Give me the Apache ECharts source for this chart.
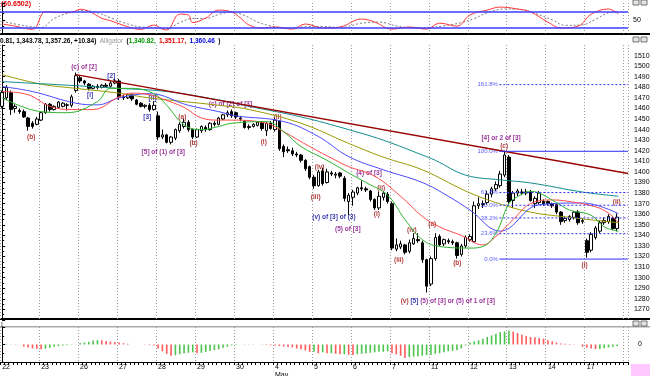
<!DOCTYPE html>
<html>
<head>
<meta charset="utf-8">
<script src="https://cdn.jsdelivr.net/npm/echarts@6/dist/echarts.min.js"></script>
<style>
html, body { margin: 0; padding: 0; background: #fff; }
#chart { width: 650px; height: 376px; }
</style>
</head>
<body>
<div id="chart"></div>
<script>
// trading days on the axis, 9 bars each (last one incomplete)
var days = ['22', '23', '26', '27', '28', '29', '30', '4', '5', '6', '7', '11', '12', '13', '14', '17'];
var slots = 145; // bar slots on the time axis, the last two are empty

// [open, close, low, high]
var candles = [
  [1462,1475,1460,1477],[1470,1480,1468,1482],[1475,1459,1454,1477],[1460,1462,1456,1464],[1458,1457,1455,1460],
  [1457,1452,1451,1459],[1451,1443,1439,1452],[1446,1443,1441,1448],[1445,1450,1444,1452],
  [1449,1456,1448,1457],[1456,1464,1455,1465],[1464,1459,1457,1465],[1459,1462,1458,1463],[1461,1466,1460,1467],
  [1462,1465,1461,1466],[1463,1463.5,1458,1465],[1463,1471,1461,1473],[1477,1491,1475,1494],
  [1489,1486,1484,1491],[1486,1484,1482,1487],[1483,1479,1477,1484],[1479,1481,1478,1482],[1481,1480,1478,1483],
  [1480,1482,1479,1483],[1482,1481,1480,1484],[1481,1484,1480,1486],[1484,1486,1483,1488],
  [1486,1471,1468,1488],[1471,1470,1468,1473],[1470,1473,1469,1474],[1473,1469,1467,1474],[1468,1464,1463,1469],
  [1465,1462,1461,1466],[1462,1463,1460,1464],[1463,1459,1457,1465],[1459,1463,1458,1467],
  [1453,1433,1430,1457],[1433,1435,1431,1440],[1435,1428,1427,1436],[1428,1433,1426,1434],[1432,1440,1430,1441],
  [1439,1445,1437,1447],[1443,1447,1441,1450],[1447,1440,1438,1449],[1440,1433,1431,1441],
  [1433,1440,1432,1441],[1439,1443,1437,1444],[1442,1440,1438,1444],[1440,1446,1439,1447],[1446,1445,1443,1448],
  [1445,1451,1444,1452],[1450,1454,1449,1455],[1454,1456,1452,1458],[1457,1453,1451,1459],
  [1456,1452,1450,1457],[1451,1450,1448,1453],[1448,1442,1441,1449],[1442,1443,1440,1445],[1443,1445,1442,1446],
  [1444,1447,1443,1448],[1447,1441,1439,1448],[1439,1446,1434,1447],[1446,1441,1440,1448],
  [1440,1449,1438,1451],[1448,1422,1420,1449],[1424,1419,1414,1426],[1421,1420,1418,1424],[1420,1417,1415,1423],
  [1417,1416,1414,1419],[1416,1411,1409,1417],[1411,1403,1401,1412],[1405,1395,1393,1406],
  [1395,1387,1384,1397],[1387,1400,1386,1402],[1401,1389,1387,1404],[1390,1400,1389,1403],[1399,1398,1396,1401],
  [1397,1398,1394,1400],[1399,1396,1394,1400],[1394,1375,1372,1396],[1372,1378,1359,1380],
  [1376,1381,1368,1383],[1380,1385,1378,1386],[1385,1384,1382,1392],[1384,1383,1381,1386],[1382,1374,1372,1383],
  [1374,1366,1364,1375],[1366,1377,1364,1381],[1376,1380,1373,1382],[1379,1372,1370,1381],
  [1370,1328,1326,1372],[1327,1331,1325,1337],[1329,1332,1327,1335],[1331,1324,1322,1332],[1325,1333,1323,1336],
  [1332,1337,1331,1342],[1336,1335,1333,1342],[1333,1317,1314,1335],[1317,1292,1286,1318],
  [1294,1318,1292,1320],[1318,1338,1316,1342],[1339,1331,1330,1341],[1332,1336,1330,1337],[1335,1334,1332,1337],
  [1334,1333,1331,1336],[1333,1321,1318,1334],[1322,1330,1320,1332],[1330,1338,1328,1340],
  [1336,1339,1334,1341],[1334,1368,1333,1372],[1368,1370,1365,1376],[1370,1369,1366,1373],[1371,1379,1369,1382],
  [1379,1384,1376,1386],[1384,1388,1382,1391],[1387,1398,1385,1401],[1397,1416,1395,1420],
  [1414,1372,1370,1416],[1373,1380,1366,1382],[1380,1382,1377,1384],[1381,1380,1378,1384],[1380,1381,1378,1384],
  [1381,1373,1372,1383],[1370,1375,1366,1377],[1371,1380,1369,1382],[1372,1370,1368,1374],
  [1372,1370,1368,1373],[1370,1368,1366,1371],[1369,1362,1360,1370],[1362,1353,1350,1363],[1354,1356,1352,1358],
  [1355,1358,1353,1359],[1357,1362,1355,1363],[1362,1352,1350,1364],[1353,1354,1351,1356],
  [1335,1324,1319,1337],[1326,1341,1324,1343],[1338,1347,1336,1349],[1344,1352,1342,1354],[1352,1354,1350,1357],
  [1353,1358,1351,1360],[1356,1346.4,1345,1358],[1346.4,1357.26,1343.78,1360.81]
];

// moving averages as [bar, price]
var maOlive = [[0,1492],[9,1483],[17,1479],[27,1474.5],[34,1470],[50,1463],[57,1459],[69,1446],[80,1427],
  [88,1414],[97,1402],[107,1382],[114,1371],[122,1362],[130,1357.5],[142.3,1352]];
var maTeal = [[0,1485.4],[15,1482],[27,1479],[38,1476],[50,1468],[57,1462],[69,1452],[80,1440],[88,1430],
  [97,1416],[100,1411],[107,1397],[115,1392.5],[122,1389.6],[134,1381],[142.3,1377]];
var jaw = [[0,1480.7],[7,1476],[17,1465],[22,1463.4],[27,1470],[34,1474],[43,1463],[50,1457],[54,1453],
  [65,1447.6],[73,1433.5],[80,1414.5],[88,1402],[97,1390],[103,1377],[108,1364],[115,1344],[124,1369],
  [134,1370.6],[142.3,1360.5]];
var teeth = [[0,1476],[6,1473],[11,1462],[16,1459],[21,1459],[27,1471],[30,1474.5],[34,1473],[37,1469],
  [42,1461],[46,1451],[50,1449],[53,1449],[61,1446],[65,1438],[71,1424],[77,1411],[80,1405],[86,1396],
  [92,1377],[97,1358],[101,1348],[106,1340],[111,1331],[114,1339],[118,1355],[122,1370],[127,1373.5],
  [131,1372],[137,1367],[140,1361],[142.3,1352]];
var lips = [[0,1470],[9,1457],[15,1456],[22,1466.5],[25,1479],[30,1479],[35,1474],[38,1463],[42,1444.5],
  [46,1440],[50,1443],[53,1446],[61,1447.6],[65,1438],[69,1424],[75,1411],[80,1399],[84,1390],[89,1378],
  [93,1355],[97,1336],[101,1329.5],[108,1328],[111,1329.5],[114,1342],[117,1370],[119,1376.6],[122,1381.5],
  [124,1380],[128,1371],[131,1364],[136,1359],[139,1348],[142.3,1344]];
var trendLine = [[17,1492],[144.5,1398.5]];

// Fibonacci retracement
var fibNames = ['161.8%', '100.0%', '61.8%', '50.0%', '38.2%', '23.6%', '0.0%'];
var fibValues = [1482.5, 1419.5, 1380.5, 1368.5, 1356.5, 1341.6, 1317.6];
var fibStart = 114.8;

// top oscillator
var oscK = [[0,35],[3,27],[7,15],[10,80],[13,77],[16,77],[18,89],[20,82],[23,56],[25,47],[29,25],[32,15],
  [35,31],[37,16],[38,13],[41,71],[43,68],[44,40],[47,57],[50,86],[53,79],[55,57],[57,31],[60,20],[63,24],
  [67,16],[70,35],[74,20],[78,24],[83,53],[86,42],[90,16],[94,24],[98,16],[101,38],[105,27],[108,68],
  [112,86],[115,97],[119,90],[122,79],[126,42],[129,20],[133,27],[136,71],[140,90],[142.3,71]];
var oscD = [[0,45],[4,32],[9,22],[12,55],[16,78],[19,84],[22,76],[25,58],[28,40],[32,24],[35,22],[38,18],
  [41,40],[44,55],[47,55],[50,70],[53,78],[56,66],[59,42],[62,28],[66,20],[70,25],[74,26],[78,22],[83,38],
  [87,42],[91,28],[95,20],[99,22],[102,28],[106,40],[109,55],[112,76],[116,90],[120,88],[123,74],[127,50],
  [130,30],[134,32],[137,52],[140,76],[142.3,80]];

// bottom histogram
var hist = [
  0.3,0.3,0.3,0.2,0,-2,-3,-4,-4.3,
  -5,-4.3,-3.3,-2.3,-1.7,-1,-0.7,-0.4,-0.2,
  1.5,2,2.7,4,4.5,4.3,3.5,3,2.5,
  2,1.3,0.8,0,0,0,-0.3,-0.7,-1,
  -4,-7,-9.5,-11.5,-11,-10,-9,-8.5,-8,
  -9,-8.5,-7.7,-6.7,-5.7,-5,-3.3,-2.3,-1,
  -0.5,0,0.3,0.3,0.2,0,-0.3,-0.5,-0.8,
  -1,-1.5,-2,-2.5,-3,-4,-5,-6,-7.5,
  -7.5,-9,-8,-9,-9,-9.5,-10,-10,-10.5,
  -10.7,-10,-9.5,-9,-8.5,-8,-7.5,-7.5,-7,
  -9,-10,-11.5,-14,-13,-12.5,-12,-11.5,-11,
  -10.5,-9.5,-9,-8,-7,-6.5,-6,-4,-1,
  2,3.3,4.3,6,7.7,9.3,11,12.7,13.3,
  14.3,13.3,11.7,10,8.7,7.7,7.5,6.7,6,
  4.3,3.3,2,1,0.7,0.5,0.3,0,-2.3,
  -3.3,-4,-4.7,-4.5,-3.8,-3,-2.3,-1.7
];

// wave labels: text, bar, price, colour key
var notes = [
  ['(c) of [2]', 18.9, 1499.3, 'p'], ['[2]', 25.2, 1490.8, 'b'], ['(b)', 6.7, 1433.2, 'r'],
  ['[i]', 20.3, 1472.9, 'b'], ['[ii]', 34.7, 1470, 'b'], ['[3]', 33.5, 1452, 'b'],
  ['[5] of (1) of [3]', 37.2, 1419, 'p'], ['(a)', 41.6, 1452, 'r'], ['(b)', 44.2, 1427.5, 'r'],
  ['(c) of [2] of [3]', 52.7, 1464.3, 'p'], ['(ii)', 63.6, 1452, 'r'], ['(i)', 60.4, 1428.4, 'r'],
  ['(iii)', 72.4, 1376.4, 'r'], ['(iv)', 73.3, 1404.8, 'r'], ['(4) of [3]', 84.7, 1399.1, 'p'],
  ['(ii)', 87.5, 1385, 'r'], ['(i)', 86.5, 1360.4, 'r'], ['(v) of [3] of (3)', 76.6, 1357.6, 'b'],
  ['(5) of [3]', 79.8, 1346.2, 'p'], ['(iv)', 94.6, 1345.3, 'r'], ['(iii)', 91.6, 1316.9, 'r'],
  ['(a)', 99.3, 1351, 'r'], ['(b)', 105.1, 1314, 'r'], ['[4] or 2 of [3]', 115.2, 1432.2, 'p'],
  ['(c)', 115.9, 1424.7, 'r'], ['(ii)', 141.9, 1371.6, 'r'], ['(i)', 134.5, 1312, 'r'],
  ['{r|(v)} {b|[5]} {p|(5) of [3] or (5) of 1 of [3]}', 102.9, 1277.3, 'p']
];

var noteColors = { p: '#800080', b: '#000099', r: '#990000' };
var fibColor = '#2f2fff';
var font = 'Liberation Sans';

var cats = [];
for (var i = 0; i < slots; i++) {
  cats.push(i < candles.length ? days[Math.floor(i / 9)] + '-' + (i % 9) : '');
}

var myChart = echarts.init(document.getElementById('chart'));

var dayAxis = function (grid) {
  return {
    type: 'value', gridIndex: grid, position: 'top', min: -0.5, max: slots - 0.5, interval: 9,
    axisLine: { show: false }, axisTick: { show: false }, axisLabel: { show: false },
    splitLine: { show: true, lineStyle: { color: '#9a9a9a', type: [1, 2], width: 1 } }
  };
};

var rightAxis = function (grid, min, max, interval, margin, shown) {
  return {
    type: 'value', gridIndex: grid, position: 'right', min: min, max: max, interval: interval,
    axisLine: { show: true, lineStyle: { color: '#000' } },
    axisTick: { show: true, length: 3, lineStyle: { color: '#000' } },
    minorTick: { show: true, splitNumber: 2, length: 2, lineStyle: { color: '#000' } },
    splitLine: { show: false },
    axisLabel: {
      fontSize: 7, color: '#000', fontFamily: font, margin: margin,
      formatter: function (v) { return shown(v) ? String(v) : ''; }
    }
  };
};

var fibSeries = fibValues.map(function (v, k) {
  var solid = fibNames[k] === '100.0%' || fibNames[k] === '0.0%';
  return {
    type: 'line', xAxisIndex: 1, yAxisIndex: 1, showSymbol: false, silent: true,
    lineStyle: { color: fibColor, width: 1, type: solid ? 'solid' : [2, 2] },
    data: [[fibStart, v], [slots - 0.5, v]]
  };
});

var maLine = function (data, color) {
  return {
    type: 'line', xAxisIndex: 1, yAxisIndex: 1, data: data, smooth: 0.4, showSymbol: false, silent: true,
    lineStyle: { color: color, width: 1 }
  };
};

// little close/maximise boxes at the top right of each panel
var panelButtons = [];
[0, 37, 321].forEach(function (y) {
  [633, 641].forEach(function (x) {
    panelButtons.push({
      type: 'rect', shape: { x: x, y: y, width: 6, height: 5 },
      style: { fill: '#e4e4e4', stroke: '#555', lineWidth: 0.8 }
    });
  });
});

var option = {
  backgroundColor: '#fff',
  animation: false,
  grid: [
    { left: 0, right: 22, top: 3, height: 30.5, containLabel: false, outerBoundsMode: 'none' },
    { left: 0, right: 22, top: 45, height: 275, containLabel: false, outerBoundsMode: 'none' },
    { left: 0, right: 22, top: 327, height: 35, containLabel: false, outerBoundsMode: 'none' }
  ],
  xAxis: [
    dayAxis(0), dayAxis(1), dayAxis(2),
    { type: 'category', gridIndex: 1, position: 'bottom', data: cats, show: false },
    {
      type: 'category', gridIndex: 2, position: 'bottom', data: cats,
      axisLine: { show: true, lineStyle: { color: '#000' } },
      axisTick: { show: true, interval: 0, length: 3, lineStyle: { color: '#000' } },
      splitLine: { show: false },
      axisLabel: {
        interval: 0, align: 'left', margin: 1, fontSize: 7, lineHeight: 8, color: '#000', fontFamily: font,
        formatter: function (v, i) {
          if (i % 9 !== 0 || i >= candles.length) return '';
          var d = days[i / 9];
          return d === '4' ? d + '\nMay' : d;
        }
      }
    }
  ],
  yAxis: [
    rightAxis(0, 0, 112, 50, 5, function (v) { return v === 50; }),
    rightAxis(1, 1260, 1520, 10, 6, function (v) { return v > 1260 && v < 1520; }),
    rightAxis(2, -18, 18, 18, 10, function (v) { return v === 0; })
  ],
  series: [
    {
      type: 'line', xAxisIndex: 0, yAxisIndex: 0, data: oscD, smooth: 0.4, showSymbol: false, silent: true,
      lineStyle: { color: '#7a7a7a', width: 1, type: [2, 2] }
    },
    {
      type: 'line', xAxisIndex: 0, yAxisIndex: 0, data: oscK, smooth: 0.4, showSymbol: false, silent: true,
      lineStyle: { color: '#ff3b3b', width: 1 },
      markLine: {
        symbol: 'none', silent: true, label: { show: false },
        lineStyle: { color: '#3c3cff', type: 'solid', width: 1.5 },
        data: [{ yAxis: 80 }, { yAxis: 20 }]
      }
    },
    maLine(maOlive, '#9a9a00'),
    maLine(maTeal, '#138c8c'),
    maLine(jaw, '#4a4aff'),
    maLine(teeth, '#ff4a4a'),
    maLine(lips, '#2fb52f'),
    {
      type: 'line', xAxisIndex: 1, yAxisIndex: 1, data: trendLine, showSymbol: false, silent: true,
      lineStyle: { color: '#990000', width: 1.5 }
    }
  ].concat(fibSeries).concat([
    {
      type: 'candlestick', xAxisIndex: 3, yAxisIndex: 1, data: candles, barWidth: 3,
      itemStyle: { color: '#fff', color0: '#000', borderColor: '#000', borderColor0: '#000', borderWidth: 1 }
    },
    {
      type: 'scatter', xAxisIndex: 1, yAxisIndex: 1, symbolSize: 1, silent: true,
      itemStyle: { color: 'rgba(0,0,0,0)' },
      label: { show: true, position: 'left', distance: 1, color: fibColor, fontSize: 6, fontFamily: font },
      data: fibValues.map(function (v, k) {
        return { value: [fibStart, v], label: { formatter: fibNames[k] } };
      })
    },
    {
      type: 'scatter', xAxisIndex: 1, yAxisIndex: 1, symbolSize: 1, silent: true,
      itemStyle: { color: 'rgba(0,0,0,0)' },
      data: notes.map(function (n) {
        return {
          value: [n[1], n[2]],
          label: {
            show: true, position: 'inside', formatter: n[0], color: noteColors[n[3]],
            fontSize: 6.5, fontWeight: 'bold', fontFamily: font,
            rich: {
              r: { color: noteColors.r, fontSize: 6.5, fontWeight: 'bold', fontFamily: font },
              b: { color: noteColors.b, fontSize: 6.5, fontWeight: 'bold', fontFamily: font },
              p: { color: noteColors.p, fontSize: 6.5, fontWeight: 'bold', fontFamily: font }
            }
          }
        };
      })
    },
    {
      type: 'bar', xAxisIndex: 4, yAxisIndex: 2, data: hist, barWidth: 1.6, silent: true,
      itemStyle: {
        color: function (p) {
          var prev = hist[p.dataIndex - 1];
          return (prev === undefined || p.value >= prev) ? '#4cc44c' : '#ff5a5a';
        }
      }
    }
  ]),
  graphic: [
    { type: 'rect', shape: { x: 0, y: 33, width: 650, height: 2 }, style: { fill: '#000' } },
    { type: 'rect', shape: { x: 0, y: 318, width: 650, height: 2 }, style: { fill: '#000' } },
    { type: 'rect', shape: { x: 0, y: 326.5, width: 650, height: 0.8 }, style: { fill: '#555' } },
    { type: 'rect', shape: { x: 631, y: 364, width: 19, height: 12 }, style: { fill: '#ffc8ff' } },
    {
      type: 'text', x: 1, y: 1,
      style: { text: '(60.6502)', fill: '#e00000', font: 'bold 7px "Liberation Sans"' }
    },
    {
      type: 'text', x: 0, y: 35,
      style: {
        text: '{k|0.81, 1,343.78, 1,357.26, +10.84)} {g|Alligator} {k|(}{l|1,340.82,} {t|1,351.17,} {j|1,360.46} {k|)}',
        rich: {
          k: { fill: '#000', fontSize: 6.5, fontWeight: 'bold', fontFamily: font },
          g: { fill: '#999', fontSize: 6.5, fontFamily: font },
          l: { fill: '#009900', fontSize: 6.5, fontWeight: 'bold', fontFamily: font },
          t: { fill: '#e00000', fontSize: 6.5, fontWeight: 'bold', fontFamily: font },
          j: { fill: '#0000e0', fontSize: 6.5, fontWeight: 'bold', fontFamily: font }
        }
      }
    },
    { type: 'text', x: 1, y: 321, style: { text: ']', fill: '#000', font: '6px "Liberation Sans"' } }
  ].concat(panelButtons)
};

myChart.setOption(option);
</script>
</body>
</html>
